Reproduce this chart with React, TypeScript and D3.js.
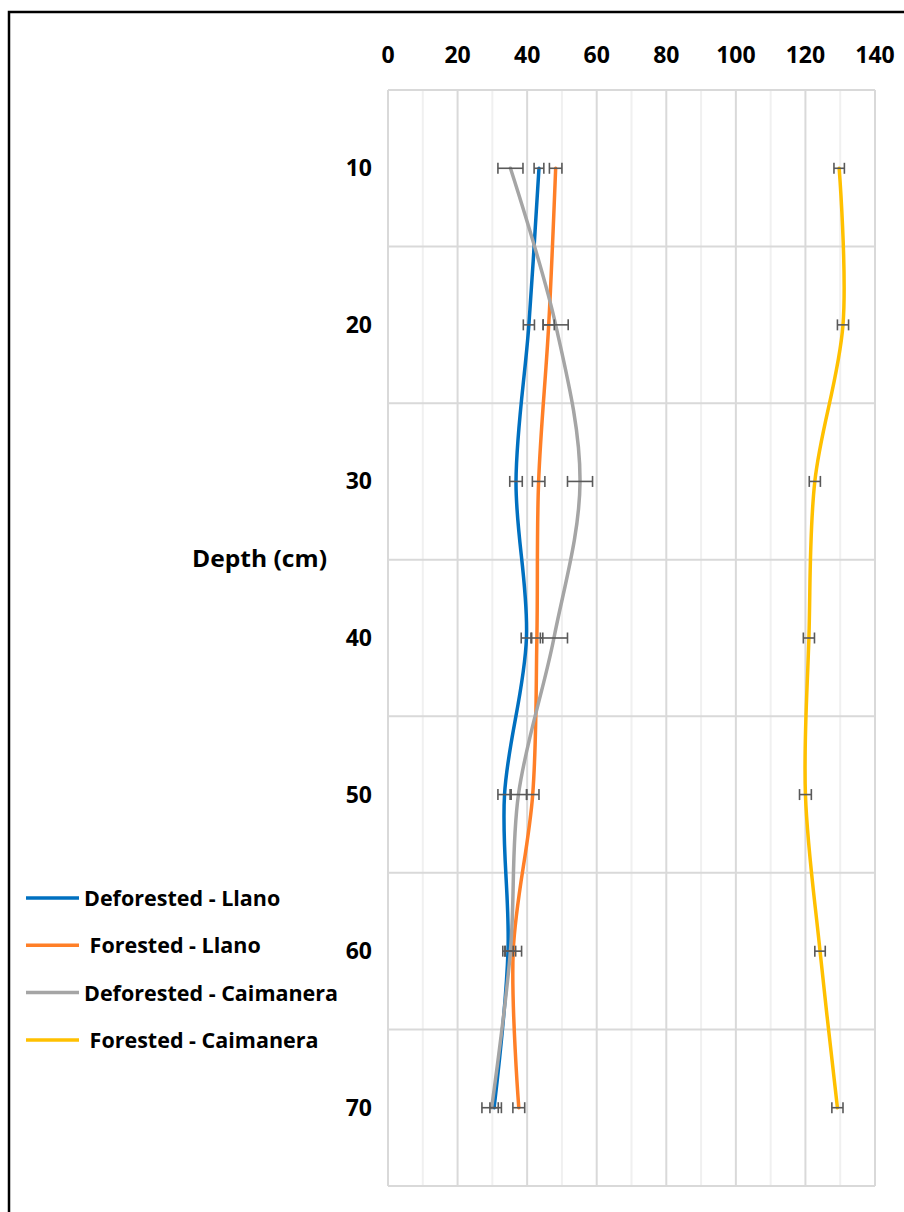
import { useMemo } from 'react';
import * as d3 from 'd3';

const W = 904;
const H = 1212;
const PLOT = { left: 388, right: 875, top: 90, bottom: 1186 };

const depths = ['10', '20', '30', '40', '50', '60', '70'];
const xTicks = [0, 20, 40, 60, 80, 100, 120, 140];

const seriesNames = [
  'Deforested - Llano',
  ' Forested - Llano',
  'Deforested - Caimanera',
  ' Forested - Caimanera',
];
const seriesColors = ['#0070C0', '#FF7F27', '#A5A5A5', '#FFC000'];

// values (x), one per depth
const defLlano = [43.4, 40.5, 36.8, 39.8, 33.5, 34.5, 30.5];
const forLlano = [48.2, 46.2, 43.3, 42.8, 41.6, 36.0, 37.6];
const defCaim = [35.2, 48.2, 55.2, 47.7, 37.5, 35.2, 29.8];
const forCaim = [129.7, 130.8, 122.7, 121.0, 120.0, 124.2, 129.2];

// error bar half widths
const defLlanoErr = [1.4, 1.6, 1.8, 1.5, 1.9, 1.5, 1.2];
const forLlanoErr = [1.8, 1.6, 1.8, 1.7, 1.8, 2.4, 1.7];
const defCaimErr = [3.6, 3.6, 3.6, 3.9, 2.4, 1.5, 2.8];
const forCaimErr = [1.5, 1.6, 1.6, 1.6, 1.7, 1.5, 1.6];

const FONT = "'Open Sans', sans-serif";

export default function App() {
  const x = useMemo(
    () => d3.scaleLinear().domain([0, 140]).range([PLOT.left, PLOT.right]),
    []
  );
  const y = useMemo(
    () => d3.scaleBand().domain(depths).range([PLOT.top, PLOT.bottom]).paddingInner(0),
    []
  );
  const yc = (d: string) => (y(d) ?? 0) + y.bandwidth() / 2;

  const series = [
    { vals: defLlano, err: defLlanoErr },
    { vals: forLlano, err: forLlanoErr },
    { vals: defCaim, err: defCaimErr },
    { vals: forCaim, err: forCaimErr },
  ];

  const line = d3
    .line<[number, string]>()
    .x((d) => x(d[0]))
    .y((d) => yc(d[1]))
    .curve(d3.curveCatmullRom.alpha(0.5));

  const minorTicks = d3.range(10, 140, 20);
  const hLines = [...depths.map((d) => y(d) ?? 0), PLOT.bottom];

  return (
    <svg
      width={W}
      height={H}
      style={{ position: 'absolute', left: 0, top: 0, background: '#fff' }}
    >
      <rect x={0} y={0} width={W} height={H} fill='#fff' />
      {/* frame */}
      <rect x={9} y={12} width={W + 20} height={H + 20} fill='none' stroke='#000' strokeWidth={2.5} />

      {/* grid */}
      {minorTicks.map((t) => (
        <line key={'m' + t} x1={x(t)} x2={x(t)} y1={PLOT.top} y2={PLOT.bottom} stroke='#f0f0f0' strokeWidth={2} />
      ))}
      {hLines.map((v, i) => (
        <line key={'h' + i} x1={PLOT.left} x2={PLOT.right} y1={v} y2={v} stroke='#d9d9d9' strokeWidth={2} />
      ))}
      {xTicks.map((t) => (
        <line key={'g' + t} x1={x(t)} x2={x(t)} y1={PLOT.top} y2={PLOT.bottom} stroke='#d9d9d9' strokeWidth={2} />
      ))}

      {/* top axis labels */}
      {xTicks.map((t) => (
        <text key={'t' + t} x={x(t)} y={63} textAnchor='middle' fontFamily={FONT} fontWeight='bold' fontSize={23} fill='#000'>
          {t}
        </text>
      ))}

      {/* depth labels */}
      {depths.map((d) => (
        <text key={'d' + d} x={372} y={yc(d) + 8} textAnchor='end' fontFamily={FONT} fontWeight='bold' fontSize={23} fill='#000'>
          {d}
        </text>
      ))}
      <text x={259.5} y={567} textAnchor='middle' fontFamily={FONT} fontWeight='bold' fontSize={23} textLength={135} lengthAdjust='spacingAndGlyphs' fill='#000'>
        Depth (cm)
      </text>

      {/* lines */}
      {series.map((s, i) => (
        <path
          key={'l' + i}
          d={line(s.vals.map((v, j) => [v, depths[j]] as [number, string])) ?? ''}
          fill='none'
          stroke={seriesColors[i]}
          strokeWidth={3.5}
          strokeLinecap='round'
        />
      ))}

      {/* error bars */}
      {series.map((s, i) =>
        s.vals.map((v, j) => {
          const cy = yc(depths[j]);
          const x0 = x(v - s.err[j]);
          const x1 = x(v + s.err[j]);
          return (
            <g key={'e' + i + '-' + j} stroke='#595959' strokeWidth={1.6}>
              <line x1={x0} x2={x1} y1={cy} y2={cy} />
              <line x1={x0} x2={x0} y1={cy - 5.5} y2={cy + 5.5} />
              <line x1={x1} x2={x1} y1={cy - 5.5} y2={cy + 5.5} />
            </g>
          );
        })
      )}

      {/* legend */}
      {seriesNames.map((n, i) => {
        const ly = 898 + i * 47.3;
        return (
          <g key={'lg' + i}>
            <line x1={26} x2={79} y1={ly} y2={ly} stroke={seriesColors[i]} strokeWidth={3.5} />
            <text x={84} y={ly + 8} fontFamily={FONT} fontWeight='bold' fontSize={21.5} fill='#000' style={{ whiteSpace: 'pre' }}>
              {n}
            </text>
          </g>
        );
      })}
    </svg>
  );
}
